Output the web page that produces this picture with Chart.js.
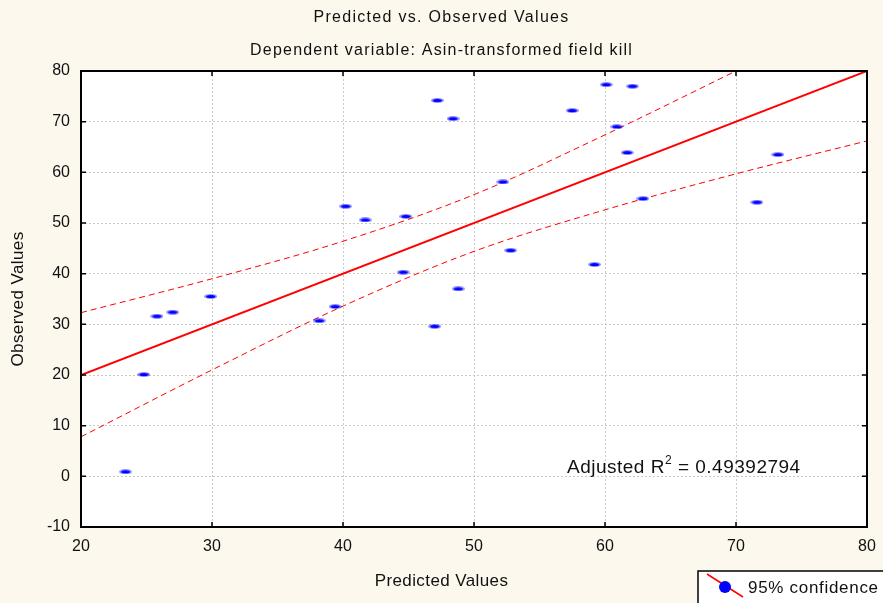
<!DOCTYPE html>
<html>
<head>
<meta charset="utf-8">
<script src="https://cdn.jsdelivr.net/npm/chart.js@4"></script>
<style>
    body { margin: 0; background: #fdf8ee; }
    #wrap { width: 883px; height: 603px; }
</style>
</head>
<body>
<div id="wrap"><canvas id="chart" width="883" height="603"></canvas></div>
<script>
// observed vs predicted
const predicted = [23.4, 24.8, 25.8, 27.0, 29.9, 38.2, 39.4, 40.2, 41.7, 44.6, 44.8, 47.0, 47.2, 48.4, 48.8, 52.2, 52.8, 57.5, 59.2, 60.1, 60.9, 61.7, 62.1, 62.9, 71.6, 73.2];
const observed = [0.9, 20.1, 31.6, 32.4, 35.5, 30.7, 33.5, 53.3, 50.6, 40.3, 51.3, 29.6, 74.2, 70.6, 37.0, 58.1, 44.6, 72.2, 41.8, 77.3, 69.0, 63.9, 77.0, 54.8, 54.1, 63.5];

// regression line and 95% band
const fitX = [20, 80];
const fitY = [20, 80];
const upperX = [20, 30, 40, 50, 60, 70];
const upperY = [32.3, 39.0, 46.4, 55.6, 67.4, 80.0];
const lowerX = [20, 30, 40, 50, 60, 70, 80];
const lowerY = [7.8, 21.0, 33.6, 44.4, 52.6, 59.7, 66.2];

const xTicks = [20, 30, 40, 50, 60, 70, 80];
const yTicks = [-10, 0, 10, 20, 30, 40, 50, 60, 70, 80];

const titleLines = ['Predicted vs. Observed Values', 'Dependent variable: Asin-transformed field kill'];
const xTitle = 'Predicted Values';
const yTitle = 'Observed Values';
const r2Label = 'Adjusted R';
const r2Value = ' = 0.49392794';
const legendLabel = '95% confidence';

const toPoints = (xs, ys) => xs.map((x, i) => ({ x: x, y: ys[i] }));

// flat blue dash used as marker
const marker = document.createElement('canvas');
marker.width = 13;
marker.height = 5;
const mctx = marker.getContext('2d');
mctx.fillStyle = 'rgba(0,0,255,0.45)';
mctx.beginPath();
mctx.ellipse(6.5, 2.5, 6.5, 2.5, 0, 0, Math.PI * 2);
mctx.fill();
mctx.fillStyle = '#0000ff';
mctx.beginPath();
mctx.ellipse(6.5, 2.5, 4.5, 1.6, 0, 0, Math.PI * 2);
mctx.fill();

const font = 'Arial, "Liberation Sans", sans-serif';

const decor = {
    id: 'decor',
    beforeDraw(chart) {
        const { ctx, chartArea: a } = chart;
        ctx.save();
        ctx.fillStyle = '#fdf8ee';
        ctx.fillRect(0, 0, chart.width, chart.height);
        ctx.fillStyle = '#ffffff';
        ctx.fillRect(a.left, a.top, a.right - a.left, a.bottom - a.top);
        ctx.restore();
    },
    afterDraw(chart) {
        const { ctx, chartArea: a, scales } = chart;
        ctx.save();

        // frame and inner ticks
        ctx.strokeStyle = '#000';
        ctx.lineWidth = 2;
        ctx.strokeRect(a.left, a.top, a.right - a.left, a.bottom - a.top);
        ctx.lineWidth = 1.5;
        ctx.beginPath();
        xTicks.forEach(v => {
            const px = scales.x.getPixelForValue(v);
            ctx.moveTo(px, a.top); ctx.lineTo(px, a.top + 5);
            ctx.moveTo(px, a.bottom); ctx.lineTo(px, a.bottom - 5);
        });
        yTicks.forEach(v => {
            const py = scales.y.getPixelForValue(v);
            ctx.moveTo(a.left, py); ctx.lineTo(a.left + 5, py);
            ctx.moveTo(a.right, py); ctx.lineTo(a.right - 5, py);
        });
        ctx.stroke();

        ctx.fillStyle = '#111';
        ctx.textAlign = 'center';
        ctx.textBaseline = 'alphabetic';

        // titles
        ctx.font = '16px ' + font;
        ctx.letterSpacing = '1.3px';
        ctx.fillText(titleLines[0], chart.width / 2, 22);
        ctx.letterSpacing = '1.2px';
        ctx.fillText(titleLines[1], chart.width / 2, 55);

        // axis titles
        ctx.letterSpacing = '0.4px';
        ctx.font = '17px ' + font;
        ctx.textBaseline = 'middle';
        ctx.fillText(xTitle, chart.width / 2, 581);
        ctx.save();
        ctx.translate(18, (a.top + a.bottom) / 2);
        ctx.rotate(-Math.PI / 2);
        ctx.fillText(yTitle, 0, 0);
        ctx.restore();

        // adjusted R squared
        ctx.textAlign = 'left';
        ctx.textBaseline = 'alphabetic';
        ctx.font = '19px ' + font;
        ctx.letterSpacing = '0.5px';
        let tx = 567;
        ctx.fillText(r2Label, tx, 473);
        tx += ctx.measureText(r2Label).width;
        ctx.font = '12px ' + font;
        ctx.fillText('2', tx, 464);
        tx += ctx.measureText('2').width;
        ctx.font = '19px ' + font;
        ctx.fillText(r2Value, tx, 473);

        // legend box
        ctx.letterSpacing = '0.7px';
        ctx.fillStyle = '#ffffff';
        ctx.fillRect(698, 571, 200, 40);
        ctx.strokeStyle = '#000';
        ctx.lineWidth = 1.5;
        ctx.strokeRect(698, 571, 200, 40);
        ctx.strokeStyle = '#ff0000';
        ctx.lineWidth = 1.5;
        ctx.beginPath();
        ctx.moveTo(707, 574);
        ctx.lineTo(743, 597);
        ctx.stroke();
        ctx.fillStyle = '#0000ff';
        ctx.beginPath();
        ctx.arc(725, 587, 6, 0, Math.PI * 2);
        ctx.fill();
        ctx.fillStyle = '#111';
        ctx.font = '17px ' + font;
        ctx.textBaseline = 'middle';
        ctx.fillText(legendLabel, 748, 588);

        ctx.restore();
    }
};

new Chart(document.getElementById('chart'), {
    type: 'scatter',
    data: {
        datasets: [
            {
                data: toPoints(predicted, observed),
                pointStyle: marker,
                pointRadius: 7,
                order: 0
            },
            {
                type: 'line',
                data: toPoints(fitX, fitY),
                borderColor: '#ff0000',
                borderWidth: 2,
                pointRadius: 0,
                order: 1
            },
            {
                type: 'line',
                data: toPoints(upperX, upperY),
                borderColor: '#ff0000',
                borderWidth: 1,
                borderDash: [6, 4],
                cubicInterpolationMode: 'monotone',
                pointRadius: 0,
                order: 1
            },
            {
                type: 'line',
                data: toPoints(lowerX, lowerY),
                borderColor: '#ff0000',
                borderWidth: 1,
                borderDash: [6, 4],
                cubicInterpolationMode: 'monotone',
                pointRadius: 0,
                order: 1
            }
        ]
    },
    options: {
        responsive: false,
        animation: false,
        events: [],
        layout: { padding: { top: 71, right: 16, left: 0, bottom: 0 } },
        plugins: {
            legend: { display: false },
            tooltip: { enabled: false }
        },
        scales: {
            x: {
                type: 'linear',
                min: 20,
                max: 80,
                afterFit: s => { s.height = 76; s.paddingLeft = 0; s.paddingRight = 0; },
                afterBuildTicks: s => { s.ticks = xTicks.map(v => ({ value: v })); },
                grid: { color: '#c8c8c8', drawTicks: false },
                border: { display: false, dash: [2, 2] },
                ticks: { color: '#111', padding: 10, font: { family: font, size: 16 } }
            },
            y: {
                type: 'linear',
                min: -10,
                max: 80,
                afterFit: s => { s.width = 81; s.paddingTop = 0; s.paddingBottom = 0; },
                afterBuildTicks: s => { s.ticks = yTicks.map(v => ({ value: v })); },
                grid: { color: '#c8c8c8', drawTicks: false },
                border: { display: false, dash: [2, 2] },
                ticks: { color: '#111', padding: 11, font: { family: font, size: 16 } }
            }
        }
    },
    plugins: [decor]
});
</script>
</body>
</html>
